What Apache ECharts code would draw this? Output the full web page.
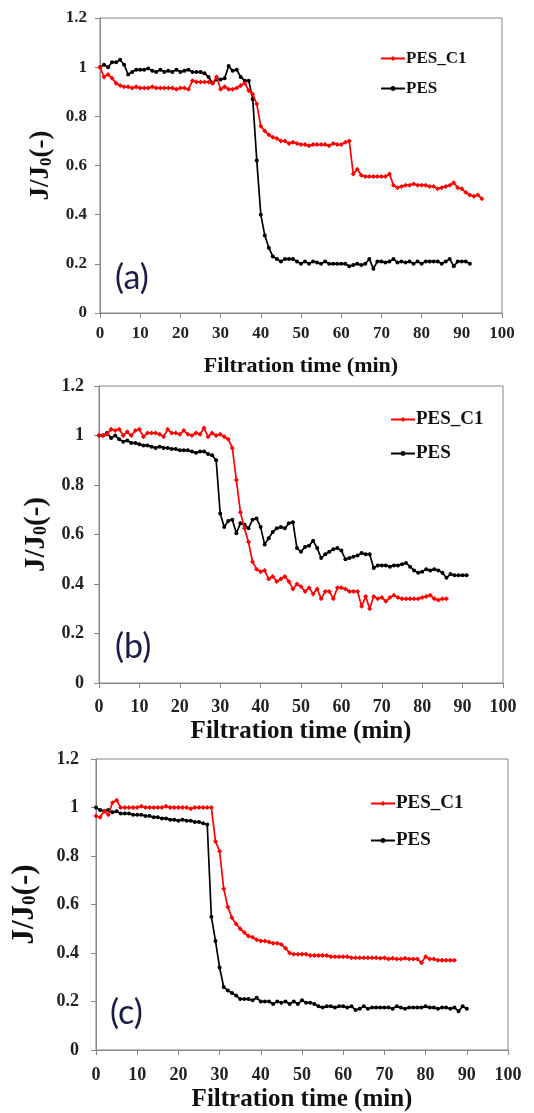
<!DOCTYPE html>
<html>
<head>
<meta charset="utf-8">
<script src="https://cdn.jsdelivr.net/npm/echarts@6/dist/echarts.min.js"></script>
<style>
  html, body { margin: 0; padding: 0; background: #fff; }
  #chart { width: 534px; height: 1113px; }
</style>
</head>
<body>
<div id="chart"></div>
<script>
// 数据：每分钟一个采样点 (min = 数组下标)
const panelLabels = ['(a)', '(b)', '(c)'];
const seriesNames = ['PES_C1', 'PES'];
const xTicks = [0, 100, 10];   // min, max, interval
const yTicks = [0, 1.2, 0.2];

// (a)
const aPesC1 = [1.00,0.96,0.97,0.955,0.935,0.925,0.92,0.92,0.915,0.92,0.915,0.915,0.915,0.92,0.915,0.915,0.915,0.915,0.915,0.91,
  0.915,0.915,0.91,0.945,0.94,0.94,0.94,0.94,0.935,0.96,0.91,0.92,0.91,0.91,0.915,0.925,0.935,0.905,0.89,0.85,
  0.76,0.74,0.725,0.715,0.71,0.70,0.70,0.69,0.695,0.69,0.685,0.685,0.68,0.685,0.685,0.685,0.685,0.68,0.69,0.685,
  0.685,0.695,0.70,0.565,0.585,0.56,0.555,0.555,0.555,0.555,0.555,0.555,0.565,0.52,0.51,0.515,0.52,0.52,0.525,0.52,
  0.52,0.52,0.515,0.515,0.505,0.51,0.515,0.52,0.53,0.51,0.505,0.49,0.48,0.475,0.48,0.465];
const aPes = [1.00,1.01,1.00,1.02,1.02,1.03,1.01,0.97,0.98,0.99,0.99,0.99,0.995,0.985,0.98,0.99,0.98,0.985,0.98,0.99,
  0.98,0.985,0.99,0.98,0.98,0.98,0.975,0.96,0.935,0.95,0.95,0.955,1.005,0.985,0.99,0.96,0.945,0.945,0.87,0.62,
  0.40,0.315,0.265,0.23,0.22,0.21,0.22,0.22,0.22,0.21,0.20,0.21,0.20,0.21,0.205,0.20,0.21,0.20,0.20,0.20,
  0.20,0.20,0.19,0.195,0.20,0.195,0.20,0.22,0.18,0.21,0.21,0.205,0.21,0.22,0.205,0.21,0.205,0.21,0.20,0.21,
  0.20,0.21,0.21,0.21,0.21,0.20,0.21,0.22,0.19,0.21,0.21,0.21,0.20];

// (b)
const bPesC1 = [1.00,1.00,1.005,1.025,1.02,1.025,1.00,1.015,1.00,1.02,1.025,0.995,1.01,1.01,1.01,1.005,0.995,1.025,1.01,1.01,
  1.005,1.02,1.005,1.00,1.01,1.005,1.03,0.995,1.01,1.00,1.005,0.995,0.985,0.95,0.82,0.69,0.625,0.57,0.49,0.46,
  0.45,0.455,0.42,0.43,0.41,0.42,0.43,0.41,0.38,0.40,0.39,0.37,0.385,0.36,0.38,0.34,0.37,0.37,0.34,0.385,
  0.385,0.38,0.37,0.37,0.37,0.31,0.35,0.30,0.35,0.34,0.345,0.33,0.345,0.355,0.345,0.34,0.34,0.34,0.34,0.34,
  0.345,0.35,0.355,0.34,0.335,0.34,0.34];
const bPes = [1.00,1.00,1.01,0.99,1.00,0.985,0.975,0.98,0.97,0.97,0.965,0.96,0.96,0.955,0.95,0.955,0.95,0.95,0.945,0.945,
  0.94,0.94,0.94,0.935,0.93,0.935,0.935,0.925,0.92,0.90,0.685,0.63,0.655,0.66,0.605,0.645,0.64,0.625,0.66,0.665,
  0.63,0.56,0.585,0.61,0.625,0.63,0.625,0.645,0.65,0.545,0.53,0.55,0.555,0.575,0.545,0.505,0.52,0.53,0.54,0.545,
  0.535,0.50,0.505,0.51,0.515,0.525,0.52,0.52,0.465,0.475,0.475,0.475,0.47,0.475,0.475,0.48,0.485,0.47,0.455,0.445,
  0.45,0.46,0.455,0.46,0.455,0.445,0.425,0.44,0.435,0.435,0.435,0.435];

// (c)
const cPesC1 = [0.965,0.96,0.985,0.97,1.02,1.03,1.00,1.00,1.00,1.00,1.00,1.005,1.00,1.00,1.00,1.00,1.00,1.005,1.00,1.00,
  1.00,1.00,1.00,0.995,1.00,1.00,1.00,1.00,1.00,0.86,0.82,0.665,0.59,0.545,0.52,0.50,0.485,0.47,0.465,0.455,
  0.45,0.45,0.445,0.44,0.44,0.435,0.42,0.40,0.395,0.395,0.395,0.395,0.39,0.39,0.39,0.39,0.39,0.385,0.385,0.385,
  0.385,0.385,0.38,0.38,0.38,0.38,0.38,0.38,0.38,0.378,0.38,0.375,0.378,0.375,0.375,0.378,0.375,0.375,0.375,0.36,
  0.385,0.375,0.375,0.37,0.37,0.37,0.37,0.37];
const cPes = [1.00,0.99,0.985,0.99,0.98,0.985,0.975,0.975,0.975,0.97,0.97,0.97,0.965,0.965,0.96,0.96,0.955,0.955,0.95,0.95,
  0.945,0.95,0.945,0.945,0.94,0.94,0.935,0.93,0.55,0.45,0.34,0.26,0.245,0.235,0.225,0.21,0.21,0.21,0.205,0.215,
  0.20,0.20,0.20,0.19,0.20,0.195,0.20,0.19,0.20,0.19,0.205,0.195,0.195,0.19,0.18,0.175,0.18,0.18,0.175,0.18,
  0.18,0.175,0.18,0.165,0.17,0.18,0.17,0.175,0.175,0.175,0.175,0.175,0.17,0.18,0.175,0.17,0.175,0.175,0.175,0.175,
  0.18,0.175,0.175,0.17,0.175,0.175,0.17,0.175,0.16,0.18,0.17];

const panelData = [[aPesC1, aPes], [bPesC1, bPes], [cPesC1, cPes]];

// 版面位置（每个子图略有不同）
const grids = [
  {left: 100, top: 18, width: 402, height: 295},
  {left: 99, top: 386, width: 404, height: 297},
  {left: 96, top: 759, width: 412, height: 292}
];
const panelStyle = [
  {tick: 17, xMargin: 12, yMargin: 13, title: 22, titleGap: 42, yName: 27, yGap: 40},
  {tick: 18, xMargin: 15, yMargin: 15, title: 25, titleGap: 36, yName: 29, yGap: 48},
  {tick: 18, xMargin: 16, yMargin: 17, title: 25, titleGap: 37, yName: 31, yGap: 56}
];
const legendPos = [
  {left: 375, top: 45, gap: 13, size: 17},
  {left: 385, top: 405, gap: 15, size: 19},
  {left: 365, top: 789, gap: 18, size: 19}
];
const labelPos = [[115, 261], [115, 630], [110, 996]];

const serif = '"Liberation Serif", "Times New Roman", serif';
const axisGray = '#868686';
const colors = ['#ff0000', '#000000'];

const toPairs = arr => arr.map((v, i) => [i, v]);

const myChart = echarts.init(document.getElementById('chart'), null, {renderer: 'canvas'});

const xAxes = [], yAxes = [], series = [], legends = [], graphics = [];
grids.forEach((g, k) => {
  const ps = panelStyle[k];
  xAxes.push({
    type: 'value', gridIndex: k,
    min: xTicks[0], max: xTicks[1], interval: xTicks[2],
    name: 'Filtration time (min)',
    nameLocation: 'middle',
    nameGap: ps.titleGap,
    nameTextStyle: {fontFamily: serif, fontWeight: 'bold', fontSize: ps.title, color: '#111'},
    axisLine: {show: true, lineStyle: {color: axisGray, width: 1}},
    axisTick: {show: true, inside: false, length: 5, lineStyle: {color: axisGray}},
    axisLabel: {fontFamily: serif, fontWeight: 'bold', fontSize: ps.tick, color: '#222', margin: ps.xMargin},
    splitLine: {show: false}
  });
  yAxes.push({
    type: 'value', gridIndex: k,
    min: yTicks[0], max: yTicks[1], interval: yTicks[2],
    name: 'J/J{sub|0}(-)',
    nameLocation: 'middle',
    nameGap: ps.yGap,
    nameTextStyle: {
      fontFamily: serif, fontWeight: 'bold', fontSize: ps.yName, color: '#111',
      rich: {sub: {fontFamily: serif, fontWeight: 'bold', fontSize: Math.round(ps.yName * 0.62), color: '#111', verticalAlign: 'bottom', padding: [10, 0, 0, 0]}}
    },
    axisLine: {show: true, lineStyle: {color: axisGray, width: 1}},
    axisTick: {show: true, inside: false, length: 5, lineStyle: {color: axisGray}},
    axisLabel: {fontFamily: serif, fontWeight: 'bold', fontSize: ps.tick, color: '#222', margin: ps.yMargin},
    splitLine: {show: false}
  });
  panelData[k].forEach((arr, j) => {
    series.push({
      name: seriesNames[j],
      type: 'line',
      xAxisIndex: k, yAxisIndex: k,
      data: toPairs(arr),
      symbol: j === 0 ? 'diamond' : 'circle',
      symbolSize: j === 0 ? 5 : 4,
      showSymbol: true,
      lineStyle: {color: colors[j], width: 1.7},
      itemStyle: {color: colors[j]},
      animation: false,
      z: j === 0 ? 3 : 2
    });
  });
  const lp = legendPos[k];
  legends.push({
    data: seriesNames,
    orient: 'vertical',
    left: lp.left, top: lp.top,
    itemGap: lp.gap,
    itemWidth: 24, itemHeight: 6,
    selectedMode: false,
    textStyle: {fontFamily: serif, fontWeight: 'bold', fontSize: lp.size, color: '#111', padding: [0, 0, 0, -4]}
  });
  graphics.push({
    type: 'text', left: labelPos[k][0], top: labelPos[k][1],
    style: {text: panelLabels[k], font: '34px Lato, "Open Sans", sans-serif', fill: '#1c1c48'}
  });
});

const option = {
  backgroundColor: '#ffffff',
  animation: false,
  grid: grids.map(g => Object.assign({show: true, borderColor: axisGray, borderWidth: 1, backgroundColor: 'transparent'}, g)),
  xAxis: xAxes,
  yAxis: yAxes,
  legend: legends,
  series: series,
  graphic: graphics
};

myChart.setOption(option);
</script>
</body>
</html>
